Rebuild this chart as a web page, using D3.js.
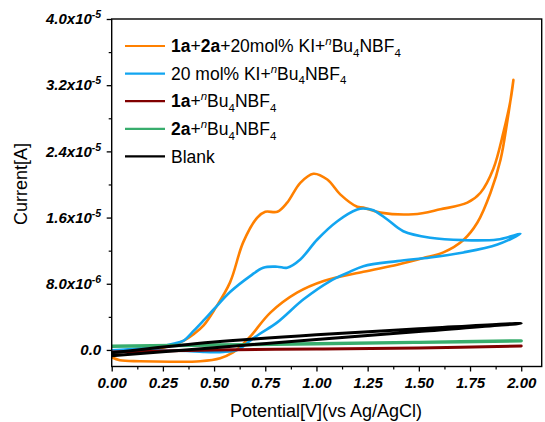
<!DOCTYPE html>
<html><head><meta charset="utf-8">
<script src="https://cdn.jsdelivr.net/npm/d3@7"></script>
<style>
body{margin:0;background:#fff}
svg{display:block}
text{font-family:"Liberation Sans",Arial,sans-serif;fill:#000}
</style>
</head><body>
<svg id="c" width="545" height="422"></svg>
<script>
// ---- data (current in units of 1e-6 A) ----
const xTicks = [0, 0.25, 0.5, 0.75, 1.0, 1.25, 1.5, 1.75, 2.0];
const xTickLabels = ["0.00","0.25","0.50","0.75","1.00","1.25","1.50","1.75","2.00"];
const xMinor = [0.125,0.375,0.625,0.875,1.125,1.375,1.625,1.875];
const yTicks = [0, 8, 16, 24, 32, 40];
const yTickMant = ["0.0","8.0x10","1.6x10","2.4x10","3.2x10","4.0x10"];
const yTickExp = ["","-6","-5","-5","-5","-5"];
const yMinor = [4, 12, 20, 28, 36];

const orangeV = [0.0,0.14,0.26,0.30,0.35,0.40,0.45,0.50,0.578,0.642,0.711,0.750,0.809,0.857,0.921,0.985,1.053,1.116,1.199,1.229,1.312,1.473,1.605,1.737,1.801,1.864,1.913,1.948,1.962,
  1.933,1.899,1.850,1.786,1.718,1.620,1.522,1.395,1.229,1.035,0.905,0.775,0.676,0.62,0.593,0.53,0.432,0.285,0.138,0.04,0.0];
const orangeI = [-0.16,0.08,0.33,0.6,1.1,1.9,3.0,4.8,8.17,13.0,16.0,16.7,16.7,17.8,20.2,21.3,20.6,18.8,17.3,17.2,16.6,16.4,17.0,17.8,19.0,21.9,26.3,30.2,32.65,
  27.8,23.0,19.0,15.4,13.3,11.8,11.1,10.3,9.45,8.33,6.92,4.51,1.6,0.2,-0.28,-1.0,-1.36,-1.42,-1.36,-1.24,-0.88];

const blueV = [0.0,0.14,0.26,0.30,0.349,0.40,0.45,0.50,0.578,0.676,0.740,0.809,0.857,0.921,1.004,1.102,1.199,1.229,1.278,1.346,1.424,1.556,1.718,1.884,1.996,
  1.884,1.718,1.556,1.395,1.229,1.15,1.067,0.937,0.807,0.72,0.66,0.62,0.545,0.447,0.368,0.187,0.0];
const blueI = [-0.05,0.2,0.5,0.75,1.1,2.3,3.6,4.95,7.0,8.93,9.94,10.06,9.94,10.94,13.35,15.56,16.97,17.09,16.89,15.77,14.35,13.56,13.27,13.35,14.04,
  12.75,11.79,11.18,10.74,10.13,9.3,8.33,6.12,3.3,1.9,0.8,0.05,-0.24,-0.24,-0.12,-0.04,-0.04];

const redV = [0.0,0.5,1.0,1.5,2.0];
const redI = [-0.25,0.0,0.12,0.25,0.48];

const greenV = [0.0,0.5,1.0,1.5,2.0];
const greenI = [0.45,0.6,0.75,0.92,1.1];

const blackV = [0.0,0.5,1.0,1.5,2.0,1.5,1.0,0.5,0.0];
const blackI = [-0.7,0.28,1.25,2.23,3.22,2.55,1.85,0.95,-0.35];

const seriesColors = ["#FF8000","#12A5F0","#800000","#38AD6D","#000000"];
const seriesWidths = [2.6,2.6,3,3.4,3];

// ---- chart ----
const svg = d3.select("#c");
const L=111.7, R=541.7, T=19, B=366.5;
const x = d3.scaleLinear().domain([0,2.1]).range([L,R]);
const y = d3.scaleLinear().domain([-2,40]).range([B,T]);

svg.append("clipPath").attr("id","cp").append("rect")
  .attr("x",L).attr("y",T).attr("width",R-L).attr("height",B-T);

const line = d3.line().x(d=>x(d[0])).y(d=>y(d[1])).curve(d3.curveCatmullRom.alpha(0.5));
const data = [
  d3.zip(orangeV,orangeI), d3.zip(blueV,blueI), d3.zip(redV,redI),
  d3.zip(greenV,greenI), d3.zip(blackV,blackI)
];
const g = svg.append("g").attr("clip-path","url(#cp)");
data.forEach((d,i)=>{
  g.append("path").attr("d",line(d)).attr("fill","none")
   .attr("stroke",seriesColors[i]).attr("stroke-width",seriesWidths[i])
   .attr("stroke-linejoin","round").attr("stroke-linecap","round");
});

// frame
svg.append("rect").attr("x",L).attr("y",T).attr("width",R-L).attr("height",B-T)
  .attr("fill","none").attr("stroke","#000").attr("stroke-width",1.4);

// x axis
const xa = svg.append("g").attr("transform",`translate(0,${B})`)
  .call(d3.axisBottom(x).tickValues(xTicks).tickSize(5).tickFormat((d,i)=>xTickLabels[i]));
xa.select(".domain").remove();
xa.selectAll("line").attr("stroke-width",1.3);
xa.selectAll("text").attr("font-size",15).attr("font-weight","bold").attr("font-style","italic")
  .attr("font-family","'Liberation Sans',Arial,sans-serif").attr("dy","0.9em");
const xm = svg.append("g").attr("transform",`translate(0,${B})`)
  .call(d3.axisBottom(x).tickValues(xMinor).tickSize(3).tickFormat(""));
xm.select(".domain").remove();
xm.selectAll("line").attr("stroke-width",1.2);

// y axis
const ya = svg.append("g").attr("transform",`translate(${L},0)`)
  .call(d3.axisLeft(y).tickValues(yTicks).tickSize(5).tickFormat(""));
ya.select(".domain").remove();
ya.selectAll("line").attr("stroke-width",1.3);
const ym = svg.append("g").attr("transform",`translate(${L},0)`)
  .call(d3.axisLeft(y).tickValues(yMinor).tickSize(3).tickFormat(""));
ym.select(".domain").remove();
ym.selectAll("line").attr("stroke-width",1.2);

yTicks.forEach((v,i)=>{
  const t = svg.append("text").attr("x",L-10.5).attr("y",y(v)+5.3)
    .attr("text-anchor","end").attr("font-size",15).attr("font-weight","bold").attr("font-style","italic");
  t.append("tspan").text(yTickMant[i]);
  if (yTickExp[i]) t.append("tspan").attr("font-size",10.5).attr("dy",-6).text(yTickExp[i]);
});

// axis titles
svg.append("text").attr("x",326).attr("y",417).attr("text-anchor","middle")
  .attr("font-size",18).text("Potential[V](vs Ag/AgCl)");
svg.append("text").attr("transform","translate(27,184) rotate(-90)").attr("text-anchor","middle")
  .attr("font-size",18).text("Current[A]");

// legend
const legendLabels = [
  [{t:"1a",b:1},{t:"+"},{t:"2a",b:1},{t:"+20mol% KI+"},{t:"n",sup:1},{t:"Bu"},{t:"4",sub:1},{t:"NBF"},{t:"4",sub:1}],
  [{t:"20 mol% KI+"},{t:"n",sup:1},{t:"Bu"},{t:"4",sub:1},{t:"NBF"},{t:"4",sub:1}],
  [{t:"1a",b:1},{t:"+"},{t:"n",sup:1},{t:"Bu"},{t:"4",sub:1},{t:"NBF"},{t:"4",sub:1}],
  [{t:"2a",b:1},{t:"+"},{t:"n",sup:1},{t:"Bu"},{t:"4",sub:1},{t:"NBF"},{t:"4",sub:1}],
  [{t:"Blank"}]
];
const legY0 = 46, legDY = 27.6;
legendLabels.forEach((segs,i)=>{
  const yy = legY0 + i*legDY;
  svg.append("line").attr("x1",125).attr("x2",165).attr("y1",yy).attr("y2",yy)
    .attr("stroke",seriesColors[i]).attr("stroke-width",2.2);
  const t = svg.append("text").attr("x",171).attr("y",yy+6.2).attr("font-size",17.5);
  let off = 0;
  segs.forEach(s=>{
    let target = s.sup ? -7 : (s.sub ? 4.5 : 0);
    const sp = t.append("tspan").text(s.t).attr("dy", target-off);
    off = target;
    if (s.b) sp.attr("font-weight","bold");
    if (s.sup) sp.attr("font-style","italic").attr("font-size",11.5);
    if (s.sub) sp.attr("font-size",11.5);
  });
});
</script>
</body></html>
